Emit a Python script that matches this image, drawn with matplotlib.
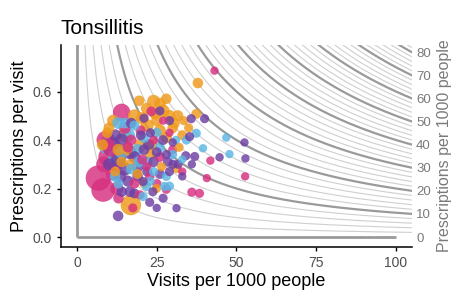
import numpy as np
import matplotlib
matplotlib.use("Agg")
import matplotlib.pyplot as plt

plt.rcParams['font.family'] = ['Liberation Sans', 'DejaVu Sans']

title = "Tonsillitis"
x_label = "Visits per 1000 people"
y_label = "Prescriptions per visit"
y2_label = "Prescriptions per 1000 people"
x_ticks = [0, 25, 50, 75, 100]
y_ticks = [0.0, 0.2, 0.4, 0.6]
iso_major = [0, 10, 20, 30, 40, 50, 60, 70, 80]
iso_minor = list(range(2, 86, 2))

# magenta group
mag_x = [43.1, 14, 8.2, 6.7, 40.7, 36, 38.4, 52.7, 41.8, 19.7, 28, 22.8, 10, 9, 12, 17, 15, 20, 24, 26,
         30, 22, 18, 13, 33, 25, 16, 29, 11, 27, 23.3, 8.5, 12.5, 10.5, 20.5, 17.5]
mag_y = [0.686, 0.514, 0.194, 0.243, 0.243, 0.185, 0.18, 0.25, 0.315, 0.174, 0.197, 0.25, 0.33, 0.40, 0.30,
         0.40, 0.45, 0.44, 0.40, 0.33, 0.36, 0.29, 0.22, 0.16, 0.27, 0.22, 0.37, 0.43, 0.26, 0.48, 0.518,
         0.30, 0.20, 0.36, 0.32, 0.12]
mag_s = [25, 110, 200, 230, 25, 30, 30, 25, 25, 30, 30, 30, 160, 120, 80, 40, 50, 35, 30, 35,
         30, 30, 35, 40, 25, 30, 40, 25, 60, 25, 35, 90, 60, 70, 35, 30]

# orange group
ora_x = [37.9, 19.5, 24, 26, 28, 21.8, 29, 31.6, 37.4, 11.3, 16.9, 24.9, 31.2, 18, 15, 22, 26, 28, 20, 13,
         10, 30, 33, 23, 17, 12, 25, 32, 19, 8, 14, 26.5, 21, 33.5, 35, 27, 24.5, 30.5, 20.5, 16, 23.5, 9.5]
ora_y = [0.635, 0.562, 0.56, 0.55, 0.57, 0.53, 0.50, 0.50, 0.508, 0.48, 0.132, 0.20, 0.284, 0.50, 0.42,
         0.46, 0.44, 0.41, 0.38, 0.36, 0.45, 0.45, 0.42, 0.34, 0.30, 0.27, 0.48, 0.37, 0.26, 0.38, 0.31,
         0.29, 0.22, 0.48, 0.45, 0.52, 0.51, 0.47, 0.49, 0.36, 0.38, 0.43]
ora_s = [40, 40, 60, 50, 40, 45, 50, 45, 35, 50, 150, 30, 35, 60, 70, 60, 50, 45, 60, 50,
         40, 40, 35, 40, 45, 35, 45, 30, 35, 45, 40, 30, 30, 30, 30, 60, 50, 45, 55, 50, 45, 40]

# blue group
blu_x = [12.9, 37.4, 46.8, 34.3, 39.5, 47.8, 11.9, 20.7, 21.8, 27.5, 28, 10, 16, 14, 19, 22, 24, 17, 13, 26,
         30, 15, 21, 18, 31, 25, 23, 33, 12, 19.5, 29]
blu_y = [0.47, 0.428, 0.41, 0.40, 0.366, 0.342, 0.25, 0.167, 0.208, 0.208, 0.25, 0.38, 0.42, 0.35, 0.36,
         0.31, 0.27, 0.28, 0.22, 0.37, 0.34, 0.47, 0.41, 0.46, 0.40, 0.43, 0.23, 0.32, 0.33, 0.31, 0.21]
blu_s = [50, 30, 25, 30, 25, 25, 40, 30, 30, 30, 30, 150, 70, 60, 50, 40, 30, 40, 35, 35,
         30, 40, 40, 35, 25, 35, 30, 25, 80, 45, 30]

# purple group
pur_x = [35.8, 40, 29, 35.3, 52.5, 36.9, 44.7, 52.8, 34.1, 31.7, 31.2, 12.9, 14, 16.6, 22.8, 23.8, 20.7, 30.1,
         11, 13, 15, 18, 21, 24, 26, 19, 16, 27, 23, 20, 12, 17, 29, 33, 25, 14, 10, 22, 28, 18, 27, 36,
         30, 21, 26, 25, 16.5, 19, 13.5, 22.5, 28.5]
pur_y = [0.488, 0.488, 0.48, 0.414, 0.39, 0.332, 0.329, 0.324, 0.335, 0.30, 0.119, 0.087, 0.187, 0.187,
         0.143, 0.187, 0.229, 0.30, 0.37, 0.32, 0.28, 0.33, 0.36, 0.31, 0.26, 0.25, 0.23, 0.40, 0.43, 0.42,
         0.42, 0.47, 0.27, 0.25, 0.35, 0.40, 0.30, 0.27, 0.34, 0.18, 0.16, 0.30, 0.39, 0.49, 0.52, 0.12,
         0.35, 0.29, 0.25, 0.38, 0.31]
pur_s = [30, 30, 30, 30, 25, 30, 25, 25, 30, 30, 25, 40, 40, 40, 30, 30, 30, 30,
         130, 80, 60, 50, 40, 40, 35, 40, 45, 35, 30, 35, 50, 40, 30, 25, 35, 60, 50, 35, 30, 35, 30, 25,
         25, 30, 30, 25, 70, 50, 55, 45, 35]

colors = {"mag": "#D6307F", "ora": "#F09A1C", "blu": "#5BB5E3", "pur": "#6E3FA3"}
size_scale = 1.45

fig = plt.figure(figsize=(4.52, 2.92), dpi=100)
ax = fig.add_axes([61 / 452, 1 - 246.7 / 292, 351 / 452, (246.7 - 45) / 292])
xmin, xmax = -5, 105
ymin, ymax = -0.04, 0.792
ax.set_xlim(xmin, xmax)
ax.set_ylim(ymin, ymax)

xx = np.linspace(0.01, xmax, 800)
for p in iso_minor:
    if p % 10 == 0:
        continue
    ax.plot(xx, p / xx, color="#cfcfcf", lw=0.8, zorder=1)
for p in iso_major[1:]:
    ax.plot(xx, p / xx, color="#9a9a9a", lw=1.6, zorder=1.5)
ax.plot([0, 0], [0, ymax + 0.1], color="#9a9a9a", lw=2.0, zorder=1.5, solid_capstyle='butt')
ax.plot([0, 100], [0, 0], color="#9a9a9a", lw=2.0, zorder=1.5, solid_capstyle='butt')

px, py, ps, pc = [], [], [], []
for key, xs, ys, ss in [("mag", mag_x, mag_y, mag_s), ("ora", ora_x, ora_y, ora_s),
                        ("blu", blu_x, blu_y, blu_s), ("pur", pur_x, pur_y, pur_s)]:
    for a, b, c in zip(xs, ys, ss):
        px.append(a); py.append(b); ps.append(c * size_scale); pc.append(colors[key])
order = np.argsort(-np.array(ps), kind="stable")
ax.scatter(np.array(px)[order], np.array(py)[order], s=np.array(ps)[order],
           c=np.array(pc)[order], alpha=0.82, linewidths=0, zorder=3)

ax.set_xticks(x_ticks)
ax.set_xticklabels([str(t) for t in x_ticks])
ax.set_yticks(y_ticks)
ax.set_yticklabels([f"{t:.1f}" for t in y_ticks])
ax.tick_params(axis='both', labelsize=10, colors='black', labelcolor='#4d4d4d', length=3, width=1)
for s in ["top", "right"]:
    ax.spines[s].set_visible(False)
for s in ["left", "bottom"]:
    ax.spines[s].set_linewidth(1.1)
ax.set_xlabel(x_label, fontsize=13, labelpad=2)
ax.set_ylabel(y_label, fontsize=13, labelpad=3)
ax.set_title(title, fontsize=15, loc='left', x=0.0, pad=8)

ax2 = ax.twinx()
ax2.set_ylim(ymin, ymax)
ax2.set_yticks([p / xmax for p in iso_major])
ax2.set_yticklabels([str(p) for p in iso_major])
ax2.tick_params(axis='y', length=0, pad=3, labelsize=9.5, labelcolor='#7a7a7a')
for s in ["top", "right", "left", "bottom"]:
    ax2.spines[s].set_visible(False)
ax2.set_ylabel(y2_label, fontsize=11.5, color='#7a7a7a', labelpad=4)

fig.savefig("out.png", dpi=100)
